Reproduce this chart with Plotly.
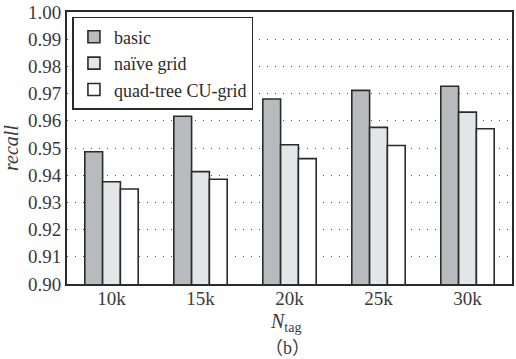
import plotly.graph_objects as go

categories = ["10k", "15k", "20k", "25k", "30k"]
basic = [0.9486, 0.9617, 0.9680, 0.9712, 0.9727]
naive_grid = [0.9376, 0.9413, 0.9512, 0.9576, 0.9632]
quad_tree = [0.9349, 0.9385, 0.9461, 0.9509, 0.9571]
y_ticks = [0.90, 0.91, 0.92, 0.93, 0.94, 0.95, 0.96, 0.97, 0.98, 0.99, 1.00]

FONT = "Liberation Serif"
edge = dict(color="#2b2b2b", width=1.6)

fig = go.Figure()
fig.add_trace(go.Bar(x=categories, y=basic, name="basic",
                     marker=dict(color="#b9babd", line=edge)))
fig.add_trace(go.Bar(x=categories, y=naive_grid, name="naïve grid",
                     marker=dict(color="#e4e5e7", line=edge)))
fig.add_trace(go.Bar(x=categories, y=quad_tree, name="quad-tree CU-grid",
                     marker=dict(color="#ffffff", line=edge)))

fig.update_layout(
    width=516, height=359,
    margin=dict(l=67, r=2, t=12, b=75),
    paper_bgcolor="white", plot_bgcolor="white",
    barmode="group", bargap=0.4, bargroupgap=0,
    font=dict(family=FONT, size=18, color="#3a3a3a"),
    legend=dict(x=0.012, y=0.982, xanchor="left", yanchor="top",
                bgcolor="white", bordercolor="#2b2b2b", borderwidth=1.6,
                font=dict(size=18, family=FONT, color="#2b2b2b"),
                tracegroupgap=0, itemwidth=30),
    showlegend=True,
)
fig.update_xaxes(showline=True, linecolor="#2b2b2b", linewidth=1.8, mirror=True,
                 ticks="", showgrid=False, ticklabelstandoff=-4,
                 tickfont=dict(size=19, family=FONT, color="#3a3a3a"))
fig.update_yaxes(range=[0.90, 1.00], tickvals=y_ticks,
                 ticktext=[f"{v:.2f}" for v in y_ticks],
                 showline=True, linecolor="#2b2b2b", linewidth=1.8, mirror=True,
                 ticks="", showgrid=True, gridcolor="#555555", gridwidth=1.3,
                 griddash="1px,7px", zeroline=False,
                 tickfont=dict(size=19, family=FONT, color="#3a3a3a"),
                 title=dict(text="<i>recall</i>", font=dict(size=20, family=FONT, color="#3a3a3a"),
                            standoff=4))

fig.add_annotation(text="<i>N</i><sub>tag</sub>", xref="paper", yref="paper",
                   x=0.49, y=-0.14, xanchor="center", yanchor="middle", showarrow=False,
                   font=dict(size=20, family=FONT, color="#3a3a3a"))
fig.add_annotation(text="（b）", xref="paper", yref="paper",
                   x=0.495, y=-0.235, xanchor="center", yanchor="middle", showarrow=False,
                   font=dict(size=18, family="Liberation Serif, Noto Sans CJK SC", color="#3a3a3a"))

fig.write_html("out.html")
